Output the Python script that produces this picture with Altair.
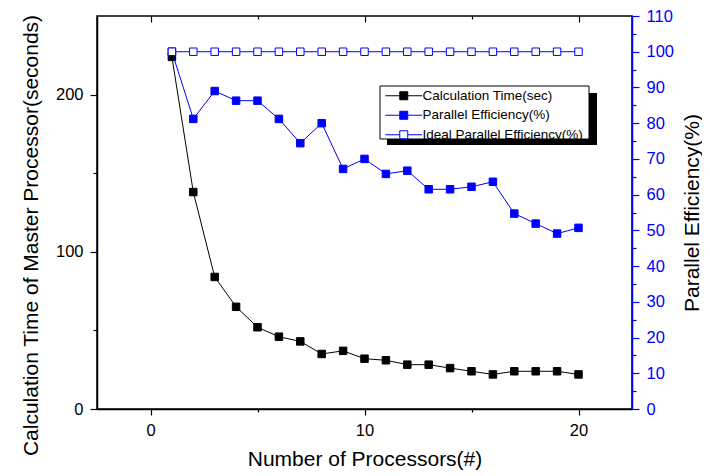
import altair as alt
import pandas as pd

# ---------------- data ----------------
processors = [1, 2, 3, 4, 5, 6, 7, 8, 9, 10, 11, 12, 13, 14, 15, 16, 17, 18, 19, 20]
calc_time = [224, 138, 84, 65, 52, 46, 43, 35, 37, 32, 31, 28.2, 28.2, 26, 24, 22, 24, 24, 24, 22]
par_eff = [100, 81.2, 89, 86.3, 86.3, 81.2, 74.4, 80, 67.2, 70, 65.8, 66.7, 61.5, 61.5, 62.2,
           63.6, 54.7, 51.9, 49.1, 50.7]
ideal_eff = [100, 100, 100, 100, 100, 100, 100, 100, 100, 100, 100, 100, 100, 100, 100,
             100, 100, 100, 100, 100]
series_names = ["Calculation Time(sec)", "Parallel Efficiency(%)", "Ideal Parallel Efficiency(%)"]
x_major = [0, 10, 20]
x_minor = [5, 15]
left_major = [0, 100, 200]
left_minor = [50, 150]
right_major = [0, 10, 20, 30, 40, 50, 60, 70, 80, 90, 100, 110]
right_minor = [5, 15, 25, 35, 45, 55, 65, 75, 85, 95, 105]

time_df = pd.DataFrame({"x": processors, "v": calc_time, "series": series_names[0]})
eff_df = pd.concat([
    pd.DataFrame({"x": processors, "v": par_eff, "series": series_names[1]}),
    pd.DataFrame({"x": processors, "v": ideal_eff, "series": series_names[2]}),
], ignore_index=True)
one = pd.DataFrame({"k": [0]})

# ---------------- style ----------------
BLUE = "#0000ff"
FONT = "Liberation Sans"
LW = 1.5

xscale = alt.Scale(domain=[-2.5, 22.5], nice=False, zero=False)
lscale = alt.Scale(domain=[0, 250], nice=False, zero=False)
rscale = alt.Scale(domain=[0, 110], nice=False, zero=False)
fill_scale = alt.Scale(domain=series_names, range=["black", BLUE, "white"])
stroke_scale = alt.Scale(domain=series_names, range=["black", BLUE, BLUE])

legend = alt.Legend(
    title=None, orient="none", legendX=283, legendY=73, padding=0,
    symbolType="M-4.6,0H-1M1,0H4.6M-1,-1H1V1H-1Z", symbolSize=64, symbolStrokeWidth=1,
    symbolOffset=17, labelOffset=12, labelFont=FONT, labelFontSize=13.5, labelColor="black",
    labelLimit=400, rowPadding=4.5,
)

common_axis = dict(grid=False, tickWidth=1.2, labelFont=FONT, titleFont=FONT,
                   titleFontWeight="normal", titleColor="black")

bottom_axis = alt.Axis(orient="bottom", values=x_major, tickSize=6, tickColor="black",
                       domainColor="black", domainWidth=LW, labelFontSize=16.5,
                       labelColor="black", labelPadding=7, labelFlush=False, format="d",
                       title="Number of Processors(#)", titleFontSize=21, titlePadding=10,
                       **common_axis)
bottom_minor_axis = alt.Axis(orient="bottom", values=x_minor, tickSize=3, tickColor="black",
                             domain=False, labels=False, title=None, **common_axis)
top_major_axis = alt.Axis(orient="top", values=x_major, tickSize=6, offset=-6,
                          tickColor="black", domain=False, labels=False, title=None,
                          **common_axis)
top_minor_axis = alt.Axis(orient="top", values=x_minor, tickSize=3, offset=-3,
                          tickColor="black", domain=False, labels=False, title=None,
                          **common_axis)
left_axis = alt.Axis(orient="left", values=left_major, tickSize=7, tickColor="black",
                     domainColor="black", domainWidth=LW, labelFontSize=16.5,
                     labelColor="black", labelPadding=7, format="d",
                     title="Calculation Time of Master Processor(seconds)", titleFontSize=21,
                     titlePadding=14, titleY=219, **common_axis)
left_minor_axis = alt.Axis(orient="left", values=left_minor, tickSize=4, tickColor="black",
                           domain=False, labels=False, title=None, **common_axis)
right_axis = alt.Axis(orient="right", values=right_major, tickSize=7, tickColor=BLUE,
                      domainColor=BLUE, domainWidth=LW, labelFontSize=16.5, labelColor=BLUE,
                      labelPadding=7, format="d", title="Parallel Efficiency(%)",
                      titleFontSize=21, titleAngle=270, titleBaseline="top", titlePadding=8,
                      **common_axis)
right_minor_axis = alt.Axis(orient="right", values=right_minor, tickSize=4, tickColor=BLUE,
                            domain=False, labels=False, title=None, **common_axis)

fill_enc = alt.Fill("series:N", scale=fill_scale, legend=legend)
stroke_enc = alt.Stroke("series:N", scale=stroke_scale, legend=legend)

# ---------------- layers ----------------
tx = alt.X("x:Q", scale=xscale, axis=bottom_axis)
ty = alt.Y("v:Q", scale=lscale, axis=left_axis)
time_line = alt.Chart(time_df).mark_line(color="black", strokeWidth=1).encode(x=tx, y=ty)
time_pts = alt.Chart(time_df).mark_square(size=56, strokeWidth=1, opacity=1).encode(
    x=tx, y=ty, fill=fill_enc, stroke=stroke_enc)
L1 = alt.layer(time_line, time_pts)

ex = alt.X("x:Q", scale=xscale, axis=top_major_axis)
ey = alt.Y("v:Q", scale=rscale, axis=right_axis)
eff_line = alt.Chart(eff_df).mark_line(color=BLUE, strokeWidth=1).encode(
    x=ex, y=ey, detail="series:N")
eff_pts = alt.Chart(eff_df).mark_square(size=56, strokeWidth=1, opacity=1).encode(
    x=ex, y=ey, fill=fill_enc, stroke=stroke_enc)
L2 = alt.layer(eff_line, eff_pts)

L3 = alt.Chart(time_df).mark_point(opacity=0).encode(
    x=alt.X("x:Q", scale=xscale, axis=top_minor_axis),
    y=alt.Y("v:Q", scale=lscale, axis=left_minor_axis))
L4 = alt.Chart(eff_df).mark_point(opacity=0).encode(
    x=alt.X("x:Q", scale=xscale, axis=bottom_minor_axis),
    y=alt.Y("v:Q", scale=rscale, axis=right_minor_axis))

shadow = alt.Chart(one).mark_rect(color="black").encode(
    x=alt.value(290), x2=alt.value(500), y=alt.value(77), y2=alt.value(129))
box = alt.Chart(one).mark_rect(fill="white", stroke="black", strokeWidth=1).encode(
    x=alt.value(283), x2=alt.value(492), y=alt.value(70), y2=alt.value(123))

chart = alt.layer(L1, L2, L3, L4, shadow, box).resolve_scale(
    y="independent"
).resolve_axis(
    x="independent", y="independent"
).properties(
    width=535, height=393,
    autosize=alt.AutoSizeParams(type="none"),
    padding={"left": 89, "top": 8, "right": 70, "bottom": 66},
).configure_view(
    stroke="black", strokeWidth=LW
)

chart.save("out.html", embed_options={"renderer": "svg", "actions": False})
